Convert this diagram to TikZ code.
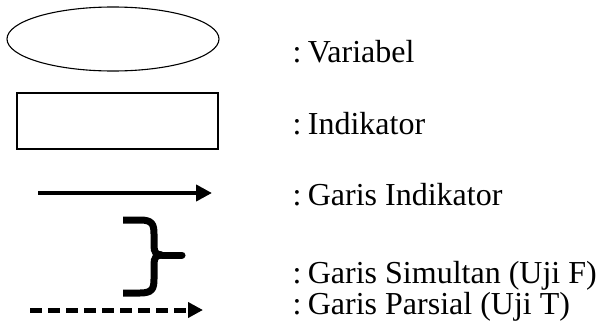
\documentclass[tikz,border=0pt]{standalone}
\usepackage{fontspec}
\setmainfont{Liberation Serif}
\usetikzlibrary{shapes.geometric,arrows.meta}
\newcommand{\colsp}{:\hspace{0.2em}}
\begin{document}
\begin{tikzpicture}[x=1pt,y=-1pt,
  lbl/.style={anchor=base west,inner sep=0pt,font=\fontsize{32}{36}\selectfont},
  shapeline/.style={draw,line width=1.1pt,inner sep=0pt},
  solidarrow/.style={line width=4pt,-{Triangle[length=16pt,width=16pt]}},
  dasharrow/.style={line width=5pt,dash pattern=on 12pt off 6pt,-{Triangle[length=15pt,width=15pt]}},
  bracestyle/.style={line width=7pt}]
\useasboundingbox (0,0) rectangle (599,324);
% symbols
\node[shapeline,ellipse,minimum width=212pt,minimum height=64pt] (var) at (113,39) {};
\node[shapeline,rectangle,minimum width=201pt,minimum height=56pt] (ind) at (117.5,121) {};
\coordinate (a1) at (38,193);
\coordinate (a2) at (212,193);
\draw[solidarrow] (a1) -- (a2);
\coordinate (bt) at (123,220);
\coordinate (bb) at (123,293);
\coordinate (bm) at (162,255);
\coordinate (btip) at (182,255);
\draw[bracestyle] (bt) -- (140,220) .. controls (152,220) and (154,224) .. (154,234) -- (154,246) .. controls (154,252) and (156,255) .. (bm);
\draw[bracestyle] (bb) -- (140,293) .. controls (152,293) and (154,289) .. (154,279) -- (154,264) .. controls (154,258) and (156,255) .. (bm);
\draw[bracestyle,line cap=round] (bm) -- (btip);
\coordinate (d1) at (30,310);
\coordinate (d2) at (203,310);
\draw[dasharrow] (d1) -- (d2);
% labels
\node[lbl] (t1) at (292.4,62) {\colsp Variabel};
\node[lbl] (t2) at (292.4,134) {\colsp Indikator};
\node[lbl] (t3) at (292.4,205) {\colsp Garis Indikator};
\node[lbl] (t4) at (292.4,283) {\colsp Garis Simultan (Uji F)};
\node[lbl] (t5) at (292.4,314) {\colsp Garis Parsial (Uji T)};
\end{tikzpicture}
\end{document}
